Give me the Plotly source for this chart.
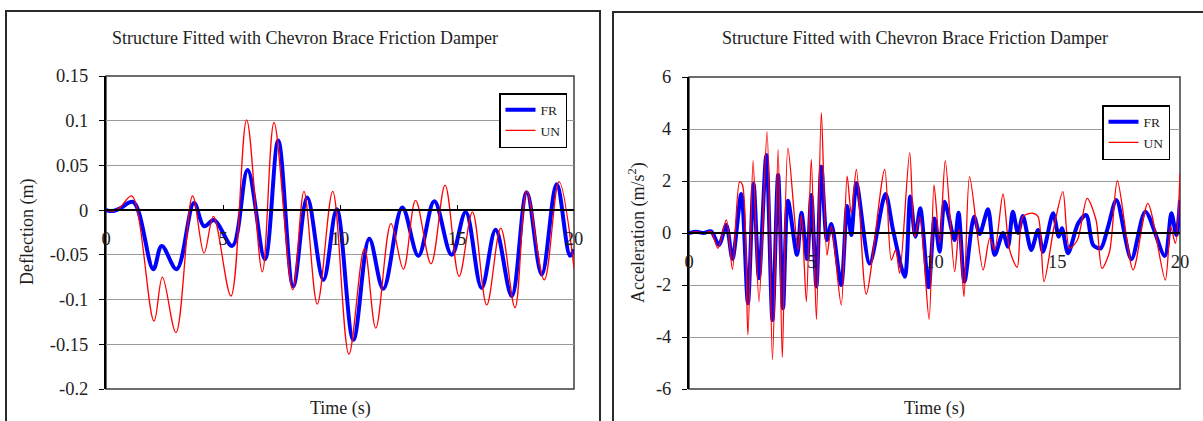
import plotly.graph_objects as go

W, H = 1203, 421

# Roof deflection time history (s, m)
defl_fr_t = [0.0, 0.3, 0.6, 1.17, 2.02, 2.38, 3.02, 3.76, 4.19, 4.62,
             5.40, 6.05, 6.79, 7.36, 8.00, 8.60, 9.29, 9.86, 10.57, 11.25,
             11.85, 12.66, 13.35, 14.03, 14.77, 15.37, 16.05, 16.65, 17.34, 17.98,
             18.62, 19.26, 19.83, 20.0]
defl_fr = [0.0, -0.001, 0.002, 0.009, -0.066, -0.040, -0.066, 0.008, -0.018, -0.011,
           -0.040, 0.045, -0.055, 0.078, -0.085, 0.014, -0.078, 0.001, -0.145, -0.032,
           -0.088, 0.003, -0.051, 0.010, -0.050, -0.002, -0.087, -0.022, -0.096, 0.020,
           -0.072, 0.029, -0.051, -0.044]

defl_un_t = [0.0, 0.3, 0.6, 1.10, 2.05, 2.41, 2.99, 3.70, 4.19, 4.59,
             5.34, 6.01, 6.68, 7.18, 7.98, 8.46, 9.03, 9.69, 10.38, 11.04,
             11.53, 12.18, 12.71, 13.23, 13.89, 14.49, 15.09, 15.66, 16.27, 16.87,
             17.48, 17.98, 18.73, 19.36, 20.0]
defl_un = [0.0, -0.001, 0.003, 0.016, -0.124, -0.075, -0.137, 0.016, -0.048, -0.007,
           -0.096, 0.101, -0.069, 0.098, -0.089, 0.021, -0.105, 0.021, -0.161, -0.043,
           -0.132, -0.015, -0.066, 0.011, -0.060, 0.028, -0.074, -0.002, -0.106, -0.020,
           -0.109, 0.021, -0.078, 0.032, -0.065]

# Roof acceleration time history (s, m/s^2)
acc_fr_t = [0.0, 0.3, 0.6, 0.9, 1.22, 1.52, 1.77, 2.13, 2.40, 2.63,
            2.85, 3.15, 3.40, 3.63, 3.83, 4.03, 4.40, 4.58, 4.81, 4.98,
            5.19, 5.39, 5.62, 5.80, 6.20, 6.44, 6.61, 6.82, 7.36, 8.00,
            8.31, 8.79, 9.01, 9.22, 9.42, 9.76, 10.00, 10.21, 10.41, 10.82,
            10.98, 11.22, 11.61, 11.84, 12.18, 12.45, 12.79, 12.99, 13.19, 13.40,
            13.60, 13.94, 14.22, 14.42, 14.83, 15.06, 15.19, 15.44, 15.85, 16.18,
            16.46, 16.77, 17.07, 17.41, 18.02, 18.59, 19.38, 19.65, 19.85, 20.0]
acc_fr = [0.0, 0.05, 0.0, 0.06, -0.46, 0.31, -1.0, 1.5, -2.7, 1.9,
          -1.74, 3.0, -3.35, 2.23, -2.9, 1.24, -0.85, 0.78, -1.0, 1.46,
          -2.06, 2.55, -0.27, 0.35, -2.0, 1.04, -0.08, 1.91, -1.17, 1.5,
          0.12, -1.68, 1.4, -0.14, 0.95, -2.09, 0.56, -0.72, 1.2, -0.27,
          0.78, -1.87, 0.63, -0.04, 0.91, -0.85, 0.0, -0.53, 0.82, 0.0,
          0.65, -0.65, 0.12, -0.72, 0.76, -0.14, 0.18, -0.78, 0.37, 0.69,
          -0.46, -0.59, 0.24, 1.27, -1.01, 0.82, -0.88, 0.76, -0.08, 1.27]

acc_un_t = [0.0, 0.3, 0.6, 0.9, 1.18, 1.52, 1.77, 2.06, 2.18, 2.40,
            2.61, 2.85, 3.18, 3.40, 3.63, 3.80, 4.03, 4.44, 4.58, 4.78,
            4.98, 5.19, 5.39, 5.62, 5.80, 6.20, 6.44, 6.61, 6.82, 7.22,
            7.97, 8.24, 8.42, 8.58, 8.99, 9.19, 9.40, 9.78, 9.98, 10.21,
            10.44, 10.82, 11.00, 11.20, 11.43, 11.98, 12.25, 12.45, 12.79, 13.06,
            13.37, 13.60, 14.01, 14.22, 14.46, 14.87, 15.23, 15.50, 15.82, 16.22,
            16.58, 16.82, 17.13, 17.45, 18.09, 18.69, 19.40, 19.62, 19.81, 20.0]
acc_un = [0.0, 0.04, 0.0, 0.05, -0.59, 0.5, -1.4, 1.97, 1.85, -3.92,
          2.78, -2.64, 3.9, -4.88, 3.22, -4.78, 3.26, -0.65, 0.7, -2.64,
          2.83, -3.32, 4.63, -0.85, 0.24, -2.77, 2.19, 0.76, 2.45, -2.35,
          2.45, -1.04, -0.65, -1.55, 3.09, -0.14, 0.63, -3.32, 1.85, -0.4,
          2.78, -1.49, 0.14, -2.45, 2.17, -1.42, -0.2, -0.65, 1.5, -0.65,
          -1.32, 0.63, 0.76, 0.63, -1.87, 0.24, 1.59, -0.59, -0.27, 1.33,
          0.5, -1.36, -0.72, 2.01, -1.42, 1.14, -1.81, 0.24, -0.4, 2.3]

chart_title = "Structure Fitted with Chevron Brace Friction Damper"
x_ticks = [0, 5, 10, 15, 20]
defl_ticks = [0.15, 0.1, 0.05, 0, -0.05, -0.1, -0.15, -0.2]
defl_tick_text = ["0.15", "0.1", "0.05", "0", "-0.05", "-0.1", "-0.15", "-0.2"]
acc_ticks = [6, 4, 2, 0, -2, -4, -6]
acc_tick_text = ["6", "4", "2", "0", "-2", "-4", "-6"]

SERIF = "Liberation Serif"
INK = "#1e1e1e"
BLUE = "#0000ff"
RED = "#ff0000"


def px(x):
    return x / W


def py(y):
    return 1 - y / H


fig = go.Figure()

fig.add_trace(go.Scatter(x=defl_fr_t, y=defl_fr, name="FR", mode="lines",
                         line=dict(color=BLUE, width=4, shape="spline", smoothing=1),
                         xaxis="x", yaxis="y", legend="legend"))
fig.add_trace(go.Scatter(x=defl_un_t, y=defl_un, name="UN", mode="lines",
                         line=dict(color=RED, width=1.3, shape="spline", smoothing=1),
                         xaxis="x", yaxis="y", legend="legend"))
fig.add_trace(go.Scatter(x=acc_fr_t, y=acc_fr, name="FR", mode="lines",
                         line=dict(color=BLUE, width=4, shape="spline", smoothing=0.8),
                         xaxis="x2", yaxis="y2", legend="legend2"))
fig.add_trace(go.Scatter(x=acc_un_t, y=acc_un, name="UN", mode="lines",
                         line=dict(color=RED, width=1.3, shape="spline", smoothing=0.8),
                         xaxis="x2", yaxis="y2", legend="legend2"))

tick_font = dict(family=SERIF, size=18.5, color=INK)


def time_axis(x0, x1, zero_y):
    return dict(domain=[px(x0), px(x1)], range=[0, 20], anchor="free",
                position=py(zero_y), showline=True, linecolor="black",
                linewidth=1.5, ticks="inside", ticklen=4, tickcolor="black",
                tickvals=x_ticks, ticklabelstandoff=12, showgrid=False,
                zeroline=False, tickfont=tick_font, automargin=False,
                fixedrange=True)


def value_axis(anchor, top, bottom, rng, vals, text):
    return dict(domain=[py(bottom), py(top)], range=rng, anchor=anchor,
                showline=True, linecolor="black", linewidth=2,
                ticks="outside", ticklen=5, tickcolor="black",
                tickvals=vals, ticktext=text, ticklabelstandoff=7,
                showgrid=True, gridcolor="#9a9a9a", gridwidth=1,
                zeroline=False, tickfont=tick_font, automargin=False,
                fixedrange=True)


legend_style = dict(xanchor="left", yanchor="top", bgcolor="white",
                    bordercolor="black", borderwidth=1.5,
                    font=dict(family=SERIF, size=13.5, color=INK),
                    itemwidth=30, tracegroupgap=0)

shapes = [
    # panel borders
    dict(type="rect", xref="paper", yref="paper", x0=px(6), x1=px(600),
         y0=py(11), y1=-0.1, line=dict(color="#2a2a2a", width=2), layer="below"),
    dict(type="rect", xref="paper", yref="paper", x0=px(613), x1=1.1,
         y0=py(12), y1=-0.1, line=dict(color="#2a2a2a", width=2), layer="below"),
    # plot-area frames
    dict(type="rect", xref="paper", yref="paper", x0=px(106), x1=px(574),
         y0=py(76), y1=py(389), line=dict(color="#3c3c3c", width=1.5), layer="below"),
    dict(type="rect", xref="paper", yref="paper", x0=px(689), x1=px(1180),
         y0=py(77), y1=py(389), line=dict(color="#3c3c3c", width=1.5), layer="below"),
]

ann_font = dict(family=SERIF, size=18, color=INK)
annotations = [
    dict(text=chart_title, x=px(305), y=py(38), xref="paper", yref="paper",
         showarrow=False, font=ann_font, xanchor="center", yanchor="middle"),
    dict(text=chart_title, x=px(915), y=py(38), xref="paper", yref="paper",
         showarrow=False, font=ann_font, xanchor="center", yanchor="middle"),
    dict(text="Time (s)", x=px(340), y=py(408), xref="paper", yref="paper",
         showarrow=False, font=ann_font, xanchor="center", yanchor="middle"),
    dict(text="Time (s)", x=px(934), y=py(408), xref="paper", yref="paper",
         showarrow=False, font=ann_font, xanchor="center", yanchor="middle"),
    dict(text="Deflection (m)", x=px(28), y=py(232), xref="paper", yref="paper",
         showarrow=False, font=ann_font, textangle=-90,
         xanchor="center", yanchor="middle"),
    dict(text="Acceleration (m/s<sup>2</sup>)", x=px(637), y=py(233),
         xref="paper", yref="paper", showarrow=False, font=ann_font,
         textangle=-90, xanchor="center", yanchor="middle"),
]

fig.update_layout(
    template="none",
    width=W, height=H,
    margin=dict(l=0, r=0, t=0, b=0),
    paper_bgcolor="white", plot_bgcolor="white",
    font=dict(family=SERIF, color=INK),
    xaxis=time_axis(106, 574, 210),
    yaxis=value_axis("x", 76, 389, [-0.2, 0.15], defl_ticks, defl_tick_text),
    xaxis2=time_axis(689, 1180, 233),
    yaxis2=value_axis("x2", 77, 389, [-6, 6], acc_ticks, acc_tick_text),
    legend=dict(x=px(499), y=py(93), **legend_style),
    legend2=dict(x=px(1102), y=py(105), **legend_style),
    shapes=shapes,
    annotations=annotations,
    showlegend=True,
)

fig.write_html("out.html")
